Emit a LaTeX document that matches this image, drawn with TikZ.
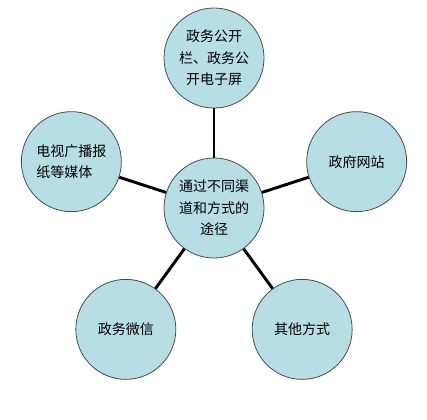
\documentclass[tikz,border=0pt]{standalone}
\usepackage{fontspec}
\newfontfamily\cjk{Noto Sans CJK SC}
\usetikzlibrary{positioning}
\definecolor{paleblue}{RGB}{183,222,228}

\begin{document}
\begin{tikzpicture}[
      x=0.75pt, y=0.75pt,
      bubble/.style={
         circle,
         draw=black!70,
         fill=paleblue,
         line width=0.6pt,
         inner sep=0pt,
         minimum size=75pt,
         align=center,
         font=\cjk\fontsize{10.5pt}{16pt}\selectfont},
      spoke/.style={draw=black, line width=2.2pt}
      ]
      \useasboundingbox (0,0) rectangle (427,-419);
      \node[bubble] (hub) at (214,-208) {通过不同渠\\道和方式的\\途径};
      \path (hub.center) ++(90:150)  node[bubble] (gk) {政务公开\\栏、政务公\\开电子屏};
      \path (hub.center) ++(18:150)  node[bubble] (web) {政府网站};
      \path (hub.center) ++(-54:150) node[bubble] (other) {其他方式};
      \path (hub.center) ++(234:150) node[bubble] (wx) {政务微信};
      \path (hub.center) ++(162:150) node[bubble, align=left] (media) {电视广播报\\纸等媒体};

    % spokes from the hub to every outer circle
    \foreach \o in {gk,web,other,wx,media}
       \draw [spoke] (hub) -- (\o);
\end{tikzpicture}
\end{document}
